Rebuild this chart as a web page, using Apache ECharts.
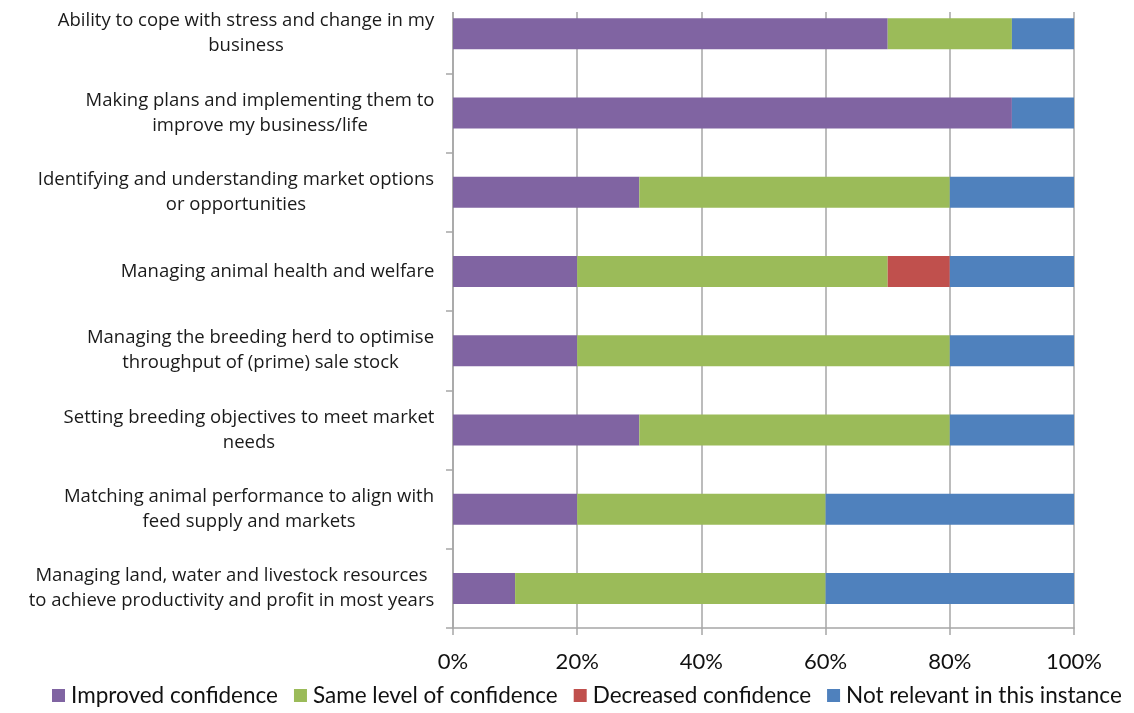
<!DOCTYPE html>
<html>
<head>
<meta charset="utf-8">
<script src="https://cdn.jsdelivr.net/npm/echarts@6/dist/echarts.min.js"></script>
<style>
  html, body { margin: 0; padding: 0; background: #fff; }
  #chart { width: 1134px; height: 713px; }
</style>
</head>
<body>
<div id="chart"></div>
<script>
// Skill areas, listed top to bottom
const categories = [
  'Ability to cope with stress and change in my\nbusiness',
  'Making plans and implementing them to\nimprove my business/life',
  'Identifying and understanding market options\nor opportunities',
  'Managing animal health and welfare',
  'Managing the breeding herd to optimise\nthroughput of (prime) sale stock',
  'Setting breeding objectives to meet market\nneeds',
  'Matching animal performance to align with\nfeed supply and markets',
  'Managing land, water and livestock resources\nto achieve productivity and profit in most years'
];

// Share of respondents (%) per response
const improved    = [70, 90, 30, 20, 20, 30, 20, 10];
const sameLevel   = [20, 0, 50, 50, 60, 50, 40, 50];
const decreased   = [0, 0, 0, 10, 0, 0, 0, 0];
const notRelevant = [10, 10, 20, 20, 20, 20, 40, 40];

const seriesNames = [
  'Improved confidence',
  'Same level of confidence',
  'Decreased confidence',
  'Not relevant in this instance'
];
const seriesColors = ['#8064A2', '#9BBB59', '#C0504D', '#4F81BD'];
const seriesValues = [improved, sameLevel, decreased, notRelevant];

const LABEL_FONT = '"Open Sans"';
const LABEL_SIZE = 18.5;
const AXIS_FONT = 'Lato';
const GRID_COLOR = '#a6a6a6';

// Width of each category label block, so that its lines can be centred
// within a right-aligned block
const measureCtx = document.createElement('canvas').getContext('2d');
measureCtx.font = LABEL_SIZE + 'px ' + LABEL_FONT;
const rich = {};
categories.forEach((c, i) => {
  const w = Math.max(...c.split('\n').map(l => measureCtx.measureText(l).width));
  rich['c' + i] = {
    width: Math.ceil(w) + 1,
    align: 'center',
    fontFamily: LABEL_FONT,
    fontSize: LABEL_SIZE,
    lineHeight: 25,
    color: '#1a1a1a'
  };
});

const chart = echarts.init(document.getElementById('chart'));

chart.setOption({
  animation: false,
  textStyle: { fontFamily: AXIS_FONT },
  grid: {
    left: 453, right: 60, top: -6, bottom: 85,
    containLabel: false,
    outerBoundsMode: 'none'
  },
  legend: {
    bottom: 1,
    left: 47,
    icon: 'rect',
    itemWidth: 13,
    itemHeight: 13,
    itemGap: 16,
    textStyle: { fontFamily: AXIS_FONT, fontSize: 22.5, color: '#111', padding: [0, 0, 0, 1] },
    data: seriesNames
  },
  xAxis: {
    type: 'value',
    min: 0,
    max: 100,
    interval: 20,
    axisLine: { show: true, lineStyle: { color: GRID_COLOR, width: 1.5 } },
    axisTick: { show: true, length: 7, lineStyle: { color: GRID_COLOR, width: 1.5 } },
    splitLine: { show: true, lineStyle: { color: GRID_COLOR, width: 1.5 } },
    axisLabel: {
      formatter: '{value}%',
      fontFamily: AXIS_FONT,
      fontSize: 22,
      color: '#111',
      margin: 23
    }
  },
  yAxis: {
    type: 'category',
    inverse: true,
    data: categories,
    axisLine: { show: true, lineStyle: { color: GRID_COLOR, width: 1.5 } },
    axisTick: { show: true, length: 7, lineStyle: { color: GRID_COLOR, width: 1.5 } },
    axisLabel: {
      align: 'right',
      margin: 18,
      formatter: (value, index) =>
        value.split('\n').map(l => '{c' + index + '|' + l + '}').join('\n'),
      rich: rich
    }
  },
  // plot frame begins a little below the top edge of the page
  graphic: [{
    type: 'rect',
    z: 100,
    shape: { x: 440, y: 0, width: 650, height: 12 },
    style: { fill: '#fff' }
  }],
  series: seriesNames.map((name, i) => ({
    name: name,
    type: 'bar',
    stack: 'total',
    barWidth: 31,
    itemStyle: { color: seriesColors[i] },
    data: seriesValues[i]
  }))
});
</script>
</body>
</html>
